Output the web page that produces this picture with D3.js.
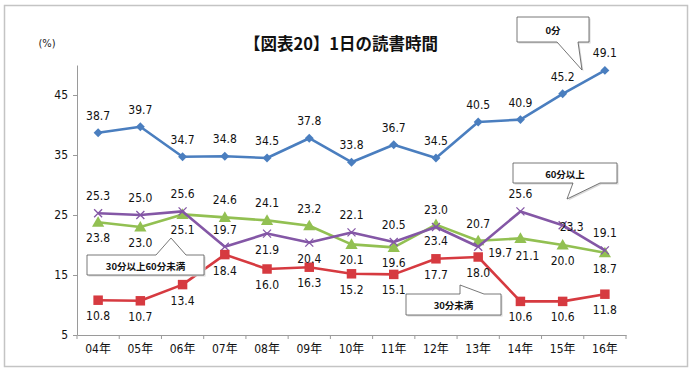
<!DOCTYPE html>
<html>
<head>
<meta charset="utf-8">
<script src="https://cdn.jsdelivr.net/npm/d3@7"></script>
<style>
  body { margin: 0; background: #fff; }
  svg text { font-family: "Liberation Sans Narrow", "DejaVu Sans Condensed", "Liberation Sans", "Noto Sans CJK JP", sans-serif; }
</style>
</head>
<body>
<div id="chart"></div>
<script>
const years = ["04年", "05年", "06年", "07年", "08年", "09年", "10年", "11年", "12年", "13年", "14年", "15年", "16年"];
const yTicks = [5, 15, 25, 35, 45];

const zeroMin = [38.7, 39.7, 34.7, 34.8, 34.5, 37.8, 33.8, 36.7, 34.5, 40.5, 40.9, 45.2, 49.1];
const under30 = [10.8, 10.7, 13.4, 18.4, 16.0, 16.3, 15.2, 15.1, 17.7, 18.0, 10.6, 10.6, 11.8];
const from30to60 = [23.8, 23.0, 25.1, 24.6, 24.1, 23.2, 20.1, 19.6, 23.4, 20.7, 21.1, 20.0, 18.7];
const over60 = [25.3, 25.0, 25.6, 19.7, 21.9, 20.4, 22.1, 20.5, 23.0, 19.7, 25.6, 23.3, 19.1];

// where each value label sits relative to its point
const sideZero = Array(13).fill("a");
const sideUnder30 = Array(13).fill("b");
const side30to60 = ["b", "b", "b", "a", "a", "a", "b", "b", "b", "a", "br", "b", "b"];
const sideOver60 = ["a", "a", "a", "a", "b", "b", "a", "a", "a", "rb", "a", "r", "a"];

const W = 695, H = 375;
const svg = d3.select("#chart").append("svg").attr("width", W).attr("height", H);

svg.append("rect")
  .attr("x", 4.5).attr("y", 5.5).attr("width", 683).attr("height", 361)
  .attr("fill", "#fff").attr("stroke", "#c4c4c4").attr("stroke-width", 1.5);

const x = d3.scaleBand().domain(years).range([77, 626]).padding(0);
const y = d3.scaleLinear().domain([5, 50]).range([335, 65]);
const cx = (i) => x(years[i]) + x.bandwidth() / 2;

// title
svg.append("text")
  .attr("x", 341).attr("y", 43)
  .attr("text-anchor", "middle").attr("dominant-baseline", "central")
  .style("font-family", "'Noto Sans CJK JP', sans-serif")
  .style("font-weight", "bold").style("font-size", "16.5px").attr("fill", "#111")
  .text("【図表20】1日の読書時間");

svg.append("text")
  .attr("x", 47).attr("y", 43)
  .attr("text-anchor", "middle").attr("dominant-baseline", "central")
  .style("font-size", "11px").attr("fill", "#222")
  .text("(%)");

// y axis
const yAxis = svg.append("g")
  .attr("transform", "translate(77,0)")
  .call(d3.axisLeft(y).tickValues(yTicks).tickSize(4).tickSizeOuter(0).tickPadding(5));
yAxis.select(".domain").attr("stroke", "#9a9a9a");
yAxis.selectAll(".tick line").attr("stroke", "#9a9a9a");
yAxis.selectAll(".tick text").style("font-size", "12px").attr("fill", "#111");

// x axis
const xAxis = svg.append("g")
  .attr("transform", "translate(0,335)")
  .call(d3.axisBottom(x).tickSize(0).tickPadding(9));
xAxis.select(".domain").attr("stroke", "#9a9a9a");
xAxis.selectAll(".tick text").style("font-size", "12px").attr("fill", "#111");
xAxis.selectAll(".bound")
  .data(d3.range(years.length + 1))
  .enter().append("line")
  .attr("x1", (i) => 77 + i * x.step()).attr("x2", (i) => 77 + i * x.step())
  .attr("y1", 0).attr("y2", 4)
  .attr("stroke", "#9a9a9a");

const line = d3.line().x((d, i) => cx(i)).y((d) => y(d));

const series = [
  { values: zeroMin, sides: sideZero, color: "#4a7ebf", marker: "diamond" },
  { values: from30to60, sides: side30to60, color: "#92c052", marker: "triangle" },
  { values: over60, sides: sideOver60, color: "#8457a6", marker: "cross" },
  { values: under30, sides: sideUnder30, color: "#d63a40", marker: "square" },
];

const offsets = { a: [0, -17], b: [0, 16], br: [7, 18], r: [9, 2], rb: [22, 6] };

series.forEach((s) => {
  svg.append("path")
    .datum(s.values)
    .attr("d", line)
    .attr("fill", "none")
    .attr("stroke", s.color)
    .attr("stroke-width", 2.6)
    .attr("stroke-linejoin", "round");

  const g = svg.append("g");
  s.values.forEach((v, i) => {
    const px = cx(i), py = y(v);
    if (s.marker === "diamond") {
      g.append("path")
        .attr("d", d3.symbol(d3.symbolSquare, 40)())
        .attr("transform", `translate(${px},${py}) rotate(45)`)
        .attr("fill", s.color);
    } else if (s.marker === "square") {
      g.append("path")
        .attr("d", d3.symbol(d3.symbolSquare, 90)())
        .attr("transform", `translate(${px},${py})`)
        .attr("fill", s.color);
    } else if (s.marker === "triangle") {
      g.append("path")
        .attr("d", d3.symbol(d3.symbolTriangle, 65)())
        .attr("transform", `translate(${px},${py + 1})`)
        .attr("fill", s.color);
    } else {
      g.append("path")
        .attr("d", "M-4,-4L4,4M-4,4L4,-4")
        .attr("transform", `translate(${px},${py})`)
        .attr("stroke", s.color).attr("stroke-width", 1.3).attr("fill", "none");
    }
  });
});

// value labels
series.forEach((s) => {
  svg.append("g").selectAll("text")
    .data(s.values)
    .enter().append("text")
    .attr("x", (d, i) => cx(i) + offsets[s.sides[i]][0])
    .attr("y", (d, i) => y(d) + offsets[s.sides[i]][1])
    .attr("text-anchor", "middle").attr("dominant-baseline", "central")
    .style("font-size", "12px").attr("fill", "#111")
    .text((d) => d.toFixed(1));
});

// callouts: box + pointer
const callouts = [
  { text: "0分", box: [517, 17, 72, 25], edge: "bottom", base: [557, 578], tip: [582, 70] },
  { text: "60分以上", box: [513, 163, 104, 20], edge: "bottom", base: [573, 600], tip: [567, 199] },
  { text: "30分以上60分未満", box: [87, 255, 117, 20], edge: "top", base: [156, 186], tip: [171, 238] },
  { text: "30分未満", box: [406, 294, 95, 21], edge: "top", base: [460, 484], tip: [460, 285] },
];

callouts.forEach((c) => {
  const [bx, by, bw, bh] = c.box;
  let d;
  if (c.edge === "bottom") {
    d = `M${bx},${by}H${bx + bw}V${by + bh}H${c.base[1]}L${c.tip[0]},${c.tip[1]}L${c.base[0]},${by + bh}H${bx}Z`;
  } else {
    d = `M${bx},${by}H${c.base[0]}L${c.tip[0]},${c.tip[1]}L${c.base[1]},${by}H${bx + bw}V${by + bh}H${bx}Z`;
  }
  svg.append("path").attr("d", d)
    .attr("transform", "translate(1.5,1.5)")
    .attr("fill", "#d8d8d8").attr("stroke", "none");
  svg.append("path").attr("d", d)
    .attr("fill", "#fff").attr("stroke", "#555").attr("stroke-width", 0.8);
  svg.append("text")
    .attr("x", bx + bw / 2).attr("y", by + bh / 2 + 0.5)
    .attr("text-anchor", "middle").attr("dominant-baseline", "central")
    .style("font-family", "'Noto Sans CJK JP', sans-serif")
    .style("font-size", "9.5px").style("font-weight", "bold").attr("fill", "#111")
    .text(c.text);
});
</script>
</body>
</html>
